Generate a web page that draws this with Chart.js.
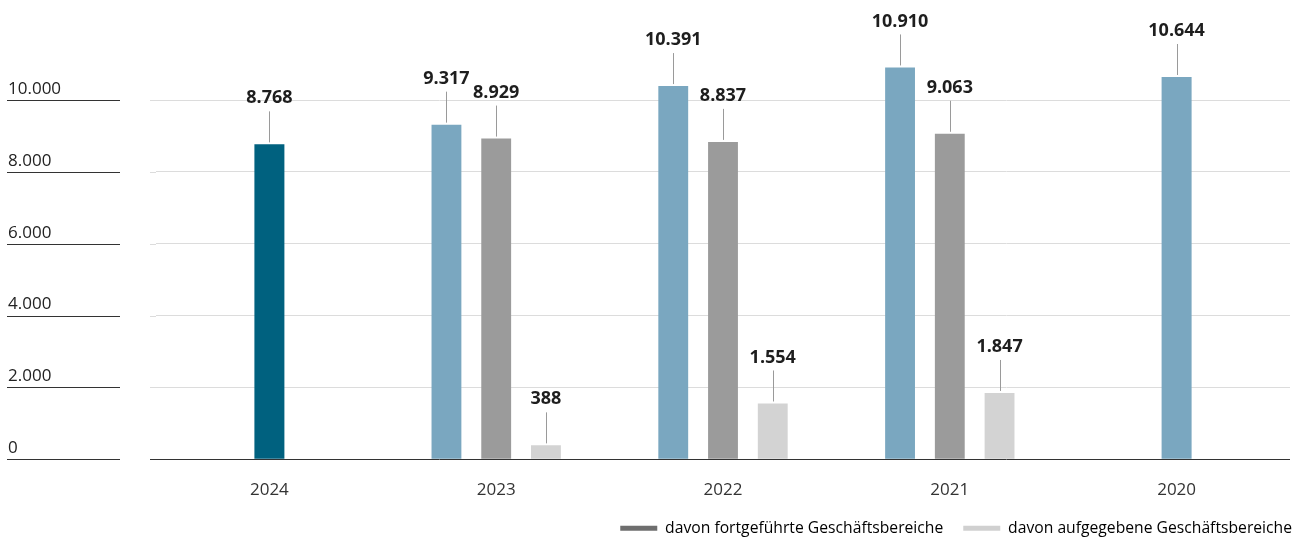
<!DOCTYPE html>
<html>
<head>
<meta charset="utf-8">
<script src="https://cdn.jsdelivr.net/npm/chart.js@4.4.0/dist/chart.umd.min.js"></script>
<style>
  html, body { margin: 0; padding: 0; background: #fff; }
  #wrap { width: 1294px; height: 540px; }
</style>
</head>
<body>
<div id="wrap"><canvas id="chart"></canvas></div>
<script>
// --- Daten ---
const jahre = ['2024', '2023', '2022', '2021', '2020'];
const gesamt = [8768, 9317, 10391, 10910, 10644];
const fortgefuehrt = [null, 8929, 8837, 9063, null];
const aufgegeben = [null, 388, 1554, 1847, null];
const yTicks = [0, 2000, 4000, 6000, 8000, 10000];

const FONT = "'Open Sans', sans-serif";
const fmt = v => v.toLocaleString('de-DE');

// Wertbeschriftung mit Hinweislinie über jedem Balken
const valueLabels = {
  id: 'valueLabels',
  afterDatasetsDraw(chart) {
    const ctx = chart.ctx;
    ctx.save();
    chart.data.datasets.forEach((ds, i) => {
      const meta = chart.getDatasetMeta(i);
      meta.data.forEach((bar, j) => {
        const v = ds.data[j];
        if (v === null) return;
        ctx.strokeStyle = '#9a9a9a';
        ctx.lineWidth = 1;
        ctx.beginPath();
        ctx.moveTo(Math.round(bar.x) + 0.5, bar.y - 2);
        ctx.lineTo(Math.round(bar.x) + 0.5, bar.y - 33);
        ctx.stroke();
        ctx.fillStyle = '#1e1e1e';
        ctx.font = "bold 18px " + FONT;
        ctx.textAlign = 'center';
        ctx.textBaseline = 'middle';
        ctx.fillText(fmt(v), bar.x, bar.y - 46);
      });
    });
    ctx.restore();
  }
};

// kurze Linien unter den Y-Beschriftungen, Gitterlinien bis x=150 verlängern
const yLabelLines = {
  id: 'yLabelLines',
  afterDraw(chart) {
    const ctx = chart.ctx;
    const y = chart.scales.y;
    const left = chart.chartArea.left;
    ctx.save();
    ctx.lineWidth = 1;
    yTicks.forEach(t => {
      const py = Math.round(y.getPixelForValue(t)) + 0.5;
      ctx.strokeStyle = '#333';
      ctx.beginPath();
      ctx.moveTo(7, py);
      ctx.lineTo(120, py);
      ctx.stroke();
      ctx.strokeStyle = t === 0 ? '#333' : '#dcdcdc';
      ctx.beginPath();
      ctx.moveTo(150, py);
      ctx.lineTo(left, py);
      ctx.stroke();
    });
    ctx.restore();
  }
};

const ctx = document.getElementById('chart').getContext('2d');
new Chart(ctx, {
  type: 'bar',
  data: {
    labels: jahre,
    datasets: [
      {
        label: 'Gesamt',
        data: gesamt,
        backgroundColor: ['#00617f', '#7aa7c0', '#7aa7c0', '#7aa7c0', '#7aa7c0']
      },
      {
        label: 'davon fortgeführte Geschäftsbereiche',
        data: fortgefuehrt,
        backgroundColor: '#9b9b9b'
      },
      {
        label: 'davon aufgegebene Geschäftsbereiche',
        data: aufgegeben,
        backgroundColor: '#d3d3d3'
      }
    ]
  },
  options: {
    responsive: true,
    maintainAspectRatio: false,
    animation: false,
    skipNull: true,
    categoryPercentage: 0.658,
    barPercentage: 0.6,
    maxBarThickness: 30,
    layout: { padding: { left: 8, right: -18, top: 10, bottom: -6 } },
    plugins: {
      tooltip: { enabled: false },
      legend: {
        position: 'bottom',
        align: 'end',
        labels: {
          boxWidth: 37,
          boxHeight: 5,
          padding: 20,
          color: '#333',
          font: { family: FONT, size: 15.7 },
          filter: item => item.datasetIndex !== 0,
          generateLabels(chart) {
            const farben = ['#7aa7c0', '#6e6e6e', '#d0d0d0'];
            return chart.data.datasets.map((ds, i) => ({
              text: ds.label,
              fillStyle: farben[i],
              strokeStyle: farben[i],
              lineWidth: 0,
              datasetIndex: i,
              hidden: false
            }));
          }
        }
      }
    },
    scales: {
      x: {
        grid: { display: false },
        border: { display: false },
        afterFit: s => { s.height = 41; },
        ticks: {
          color: '#333',
          padding: 13,
          font: { family: FONT, size: 17 }
        }
      },
      y: {
        min: 0,
        max: 12420,
        afterBuildTicks: s => { s.ticks = yTicks.map(v => ({ value: v })); },
        afterFit: s => { s.width = 148; },
        border: { display: false },
        grid: {
          drawTicks: false,
          color: c => c.tick && c.tick.value === 0 ? '#333' : '#dcdcdc'
        },
        ticks: {
          crossAlign: 'far',
          labelOffset: -11,
          color: '#222',
          font: { family: FONT, size: 17 },
          callback: v => fmt(v)
        }
      },
      // leere Achse rechts als Abstand, damit die Legende bis an den Rand reicht
      rand: {
        type: 'linear',
        position: 'right',
        display: true,
        afterFit: s => { s.width = 22; },
        grid: { display: false },
        border: { display: false },
        ticks: { display: false }
      }
    }
  },
  plugins: [valueLabels, yLabelLines]
});
</script>
</body>
</html>
